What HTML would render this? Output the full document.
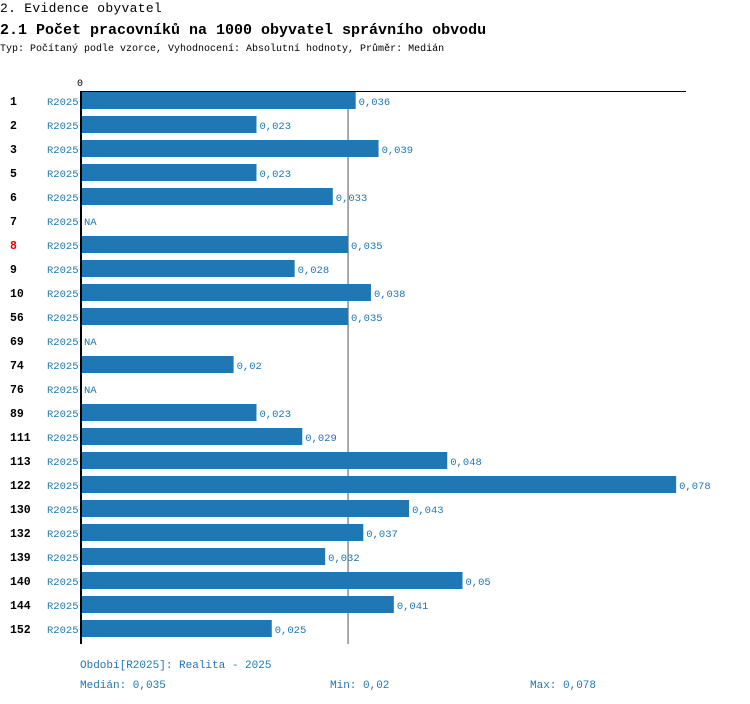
<!DOCTYPE html>
<html><head><meta charset="utf-8"><style>
body{margin:0;width:750px;height:704px;background:#fff;position:relative;overflow:hidden;font-family:"Liberation Mono",monospace}
.t{position:absolute;white-space:nowrap}
</style></head><body>
<div class="t" style="left:0;top:1px;font-size:13px;letter-spacing:0.3px;">2. Evidence obyvatel</div>
<div class="t" style="left:0;top:22px;font-size:15px;font-weight:bold;">2.1 Počet pracovníků na 1000 obyvatel správního obvodu</div>
<div class="t" style="left:0;top:44px;font-size:10px;">Typ: Počítaný podle vzorce, Vyhodnocení: Absolutní hodnoty, Průměr: Medián</div>
<svg id="c" width="750" height="704" style="position:absolute;left:0;top:0" font-family="Liberation Mono, monospace"></svg>
<div class="t" style="left:80px;top:660px;font-size:11px;color:#1f77b4">Období[R2025]: Realita - 2025</div>
<div class="t" style="left:80px;top:680px;font-size:11px;color:#1f77b4">Medián: 0,035</div>
<div class="t" style="left:330px;top:680px;font-size:11px;color:#1f77b4">Min: 0,02</div>
<div class="t" style="left:530px;top:680px;font-size:11px;color:#1f77b4">Max: 0,078</div>
<script>
const categories=["1","2","3","5","6","7","8","9","10","56","69","74","76","89","111","113","122","130","132","139","140","144","152"];
const values=[0.036,0.023,0.039,0.023,0.033,null,0.035,0.028,0.038,0.035,null,0.02,null,0.023,0.029,0.048,0.078,0.043,0.037,0.032,0.05,0.041,0.025];
const highlight="8";
const median=0.035;
const svg=document.getElementById('c');const NS='http://www.w3.org/2000/svg';
const x0=81,scale=7630,y0=92,step=24;
const x=v=>x0+v*scale;
function mk(t,a){const e=document.createElementNS(NS,t);for(const k in a)e.setAttribute(k,a[k]);svg.appendChild(e);return e;}
const yEnd=y0+categories.length*step;
let e=mk('line',{x1:x(median),y1:91,x2:x(median),y2:yEnd,stroke:'#555','stroke-width':1});


e=mk('line',{x1:80,y1:91.5,x2:686,y2:91.5,stroke:'#000','stroke-width':1});


e=mk('text',{x:77,y:86,'font-size':10});e.textContent='0';


categories.forEach((c,i)=>{
 const yc=y0+i*step;
 let t=mk('text',{x:10,y:yc+13,'font-size':11.5,'font-weight':'bold',fill:c===highlight?'#e00':'#000'});t.textContent=c;
 
 
 t=mk('text',{x:47,y:yc+13,'font-size':10.5,fill:'#1f77b4'});t.textContent='R2025';
 
 
 const v=values[i];
 if(v==null){t=mk('text',{x:84,y:yc+13,'font-size':10.5,fill:'#1f77b4'});t.textContent='NA';
  
  return;}
 const r=mk('rect',{x:x0+1,y:yc,width:x(v)-x0-1,height:17,fill:'#1f77b4'});
 
 
 t=mk('text',{x:x(v)+3,y:yc+13,'font-size':10.5,fill:'#1f77b4'});t.textContent=String(v).replace('.',',');
 
 
});
e=mk('line',{x1:81,y1:91,x2:81,y2:yEnd,stroke:'#000','stroke-width':2});


</script>
</body></html>
